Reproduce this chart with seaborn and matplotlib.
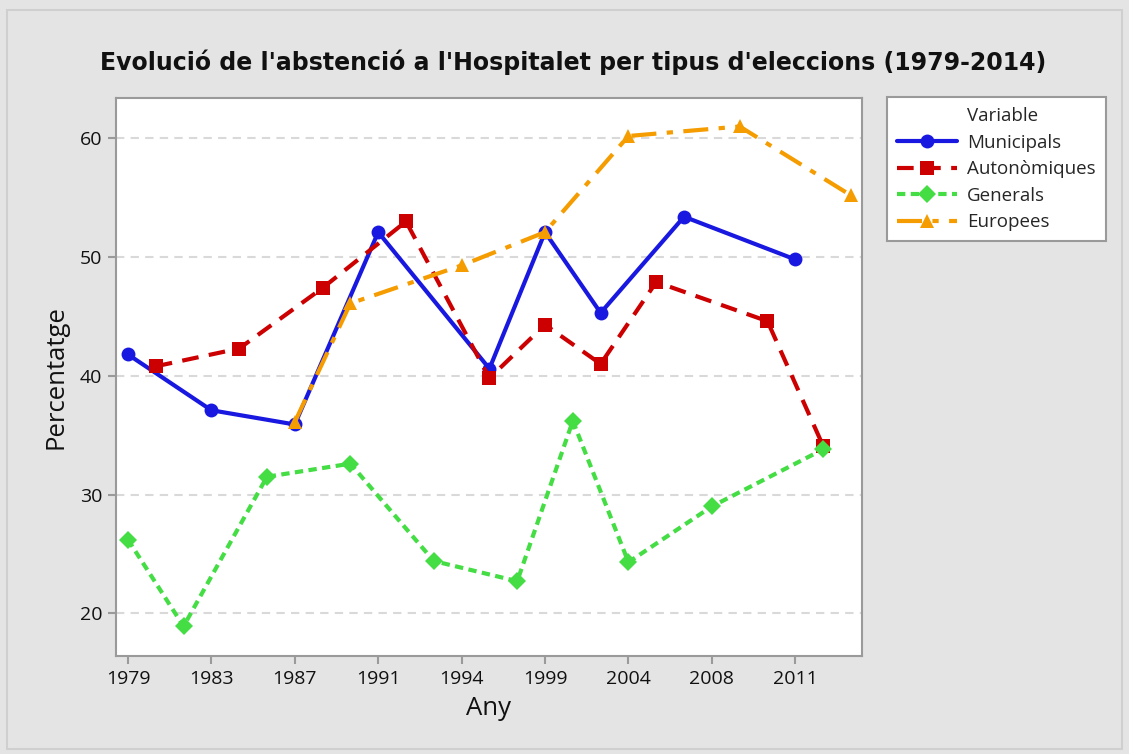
import matplotlib
matplotlib.use("Agg")
import matplotlib.pyplot as plt
from matplotlib.lines import Line2D
from matplotlib.patches import Rectangle
import seaborn as sns
import pandas as pd

# ---- data ----
tick_labels = ["1979", "1983", "1987", "1991", "1994", "1999", "2004", "2008", "2011"]
tick_index = [0, 3, 6, 9, 12, 15, 18, 21, 24]

mun_x = [0, 3, 6, 9, 13, 15, 17, 20, 24]
mun_y = [41.8, 37.1, 35.9, 52.1, 40.6, 52.1, 45.3, 53.4, 49.8]
aut_x = [1, 4, 7, 10, 13, 15, 17, 19, 23, 25]
aut_y = [40.8, 42.3, 47.4, 53.0, 39.8, 44.3, 41.0, 47.9, 44.6, 34.1]
gen_x = [0, 2, 5, 8, 11, 14, 16, 18, 21, 25]
gen_y = [26.2, 18.9, 31.5, 32.6, 24.4, 22.7, 36.2, 24.3, 29.0, 33.8]
eur_x = [6, 8, 12, 15, 18, 22, 26]
eur_y = [36.1, 46.1, 49.3, 52.1, 60.2, 61.0, 55.2]

series_names = ["Municipals", "Autonòmiques", "Generals", "Europees"]
series_x = [mun_x, aut_x, gen_x, eur_x]
series_y = [mun_y, aut_y, gen_y, eur_y]

frames = []
for name, xs, ys in zip(series_names, series_x, series_y):
    frames.append(pd.DataFrame({"Posició": xs, "Percentatge": ys, "Variable": name}))
df = pd.concat(frames, ignore_index=True)

palette = {"Municipals": "#1818e0", "Autonòmiques": "#cc0000",
           "Generals": "#44dd44", "Europees": "#f59c00"}
markers = {"Municipals": "o", "Autonòmiques": "s", "Generals": "D", "Europees": "^"}
dashes = {"Municipals": "", "Autonòmiques": (4, 2.5),
          "Generals": (2, 1.3), "Europees": (6, 2.5, 1.5, 2.5)}
msizes = {"Municipals": 10, "Autonòmiques": 10, "Generals": 9, "Europees": 10}

sns.set_theme(style="white")
plt.rcParams['font.family'] = ['Open Sans', 'DejaVu Sans']

fig = plt.figure(figsize=(11.29, 7.54), dpi=100)
fig.patch.set_facecolor("#e4e4e4")
fig.patches.append(Rectangle((0.006, 0.006), 0.988, 0.981, transform=fig.transFigure,
                             fill=False, edgecolor="#cfcfcf", linewidth=1.5))
ax = fig.add_axes([116 / 1129, 1 - 656 / 754, (862 - 116) / 1129, (656 - 98) / 754])
ax.set_facecolor("white")

for name in series_names:
    sub = df[df["Variable"] == name]
    sns.lineplot(data=sub, x="Posició", y="Percentatge", ax=ax,
                 color=palette[name], marker=markers[name],
                 markersize=msizes[name], markeredgewidth=0,
                 linewidth=3, legend=False, estimator=None, sort=False,
                 dashes=False)
    line = ax.lines[-1]
    d = dashes[name]
    if d:
        line.set_dashes(d)
        line.set_dash_capstyle("butt")

ax.set_xlim(-0.43, 26.4)
ax.set_ylim(16.4, 63.4)
ax.set_xticks(tick_index)
ax.set_xticklabels(tick_labels)
ax.set_yticks([20, 30, 40, 50, 60])
ax.yaxis.grid(True, color="#d9d9d9", linestyle=(0, (4, 3)), linewidth=1.5)
ax.xaxis.grid(False)
ax.set_axisbelow(True)
for s in ax.spines.values():
    s.set_color("#9a9a9a")
    s.set_linewidth(1.5)
ax.tick_params(axis="both", which="major", direction="out", length=6, width=1.5,
               color="#9a9a9a", labelsize=14, labelcolor="#111111", pad=4,
               bottom=True, left=True)
ax.set_xlabel("Any", fontsize=18.5, color="#111111", labelpad=6)
ax.set_ylabel("Percentatge", fontsize=18.5, color="#111111", labelpad=8)

fig.text(0.508, 0.918, "Evolució de l'abstenció a l'Hospitalet per tipus d'eleccions (1979-2014)",
         ha="center", va="center", fontsize=17, fontweight="bold", color="#111111",
         family=["DejaVu Sans"])

handles = [Line2D([], [], linestyle="none", marker=None)]
labels = ["Variable"]
for name in series_names:
    h = Line2D([], [], color=palette[name], marker=markers[name],
               markersize=msizes[name], markeredgewidth=0, linewidth=3)
    if dashes[name]:
        h.set_dashes(dashes[name])
        h.set_dash_capstyle("butt")
    handles.append(h)
    labels.append(name)
leg = fig.legend(handles, labels, loc="upper left",
                 bbox_to_anchor=(887 / 1129, 1 - 97 / 754),
                 frameon=True, fancybox=False, fontsize=13.5,
                 handlelength=3.2, handletextpad=0.5, labelspacing=0.45,
                 borderpad=0.55, borderaxespad=0)
leg.get_frame().set_edgecolor("#9a9a9a")
leg.get_frame().set_linewidth(1.5)
leg.get_frame().set_facecolor("white")
leg.get_frame().set_alpha(1)

fig.savefig("out.png", dpi=100, facecolor=fig.get_facecolor())
